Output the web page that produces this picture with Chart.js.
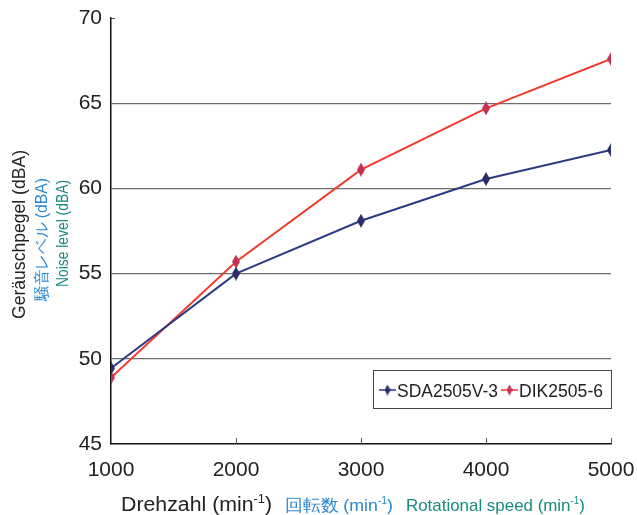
<!DOCTYPE html>
<html><head><meta charset="utf-8">
<script src="https://cdn.jsdelivr.net/npm/chart.js@4/dist/chart.umd.min.js"></script>
<style>html,body{margin:0;padding:0;background:#fff;}#wrap{width:637px;height:515px;}</style>
</head><body><div id="wrap"><canvas id="c" width="637" height="515"></canvas></div>
<script>
const speeds = [1000, 2000, 3000, 4000, 5000];
const sdaValues = [49.45, 55.0, 58.1, 60.55, 62.25];
const dikValues = [48.9, 55.7, 61.1, 64.7, 67.6];
const seriesNames = ['SDA2505V-3', 'DIK2505-6'];
const yTicks = [45, 50, 55, 60, 65, 70];
const xTicks = [1000, 2000, 3000, 4000, 5000];

const FONT = '"Liberation Sans", Arial, Helvetica, sans-serif';
const BLUE_LINE = '#2e3a82', BLUE_MARK = '#2b2d68';
const RED_LINE = '#f23a2c', RED_MARK = '#c42f52';
const JP_BLUE = '#2b86d1', EN_TEAL = '#198a7f';

function diamond(w, h, color) {
  const c = document.createElement('canvas');
  c.width = w; c.height = h;
  const g = c.getContext('2d');
  g.fillStyle = color;
  g.beginPath();
  g.moveTo(w / 2, 0); g.lineTo(w, h / 2); g.lineTo(w / 2, h); g.lineTo(0, h / 2);
  g.closePath(); g.fill();
  return c;
}
const blueD = diamond(8, 14, BLUE_MARK), redD = diamond(8, 14, RED_MARK);
const blueL = diamond(6, 11, BLUE_MARK), redL = diamond(6, 11, RED_MARK);

const mk = vals => speeds.map((s, i) => ({ x: s, y: vals[i] }));

// draw text fitted horizontally to a given width (in text direction)
function fitText(ctx, parts, size, x, y, targetW, color) {
  // parts: [{t, sup}]
  ctx.save();
  const widths = parts.map(p => {
    ctx.font = (p.sup ? Math.round(size * 0.6) : size) + 'px ' + FONT;
    return ctx.measureText(p.t).width;
  });
  const total = widths.reduce((a, b) => a + b, 0);
  const k = targetW / total;
  ctx.translate(x, y);
  ctx.scale(k, 1);
  ctx.fillStyle = color;
  ctx.textBaseline = 'alphabetic';
  ctx.textAlign = 'left';
  let cx = 0;
  parts.forEach((p, i) => {
    ctx.font = (p.sup ? Math.round(size * 0.6) : size) + 'px ' + FONT;
    ctx.fillText(p.t, cx, p.sup ? -size * 0.42 : 0);
    cx += widths[i];
  });
  ctx.restore();
}

const decor = {
  id: 'decor',
  afterDraw(chart) {
    const ctx = chart.ctx, a = chart.chartArea;
    const xs = chart.scales.x, ys = chart.scales.y;
    ctx.save();
    ctx.strokeStyle = '#555'; ctx.lineWidth = 1;
    xTicks.slice(1).forEach(v => {
      const px = Math.round(xs.getPixelForValue(v)) + 0.5;
      ctx.beginPath(); ctx.moveTo(px, a.bottom); ctx.lineTo(px, a.bottom - 6); ctx.stroke();
    });
    const ty = Math.round(ys.getPixelForValue(70)) + 0.5;
    ctx.beginPath(); ctx.moveTo(a.left, ty); ctx.lineTo(a.left + 4, ty); ctx.stroke();

    // x axis title
    const base = 511;
    fitText(ctx, [{t: 'Drehzahl (min'}, {t: '-1', sup: true}, {t: ')'}], 20, 121, base, 151, '#222');
    fitText(ctx, [{t: '回転数 (min'}, {t: '-1', sup: true}, {t: ')'}], 17, 285, base, 108, JP_BLUE);
    fitText(ctx, [{t: 'Rotational speed (min'}, {t: '-1', sup: true}, {t: ')'}], 17, 406, base, 179, EN_TEAL);

    // y axis titles (rotated); start at bottom y, running upward
    const vtext = (txt, size, color, cx, yBottom, len) => {
      ctx.save();
      ctx.translate(cx, yBottom); ctx.rotate(-Math.PI / 2);
      ctx.textBaseline = 'middle';
      ctx.font = size + 'px ' + FONT;
      const w = ctx.measureText(txt).width;
      ctx.scale(len / w, 1);
      ctx.fillStyle = color; ctx.textAlign = 'left';
      ctx.fillText(txt, 0, 0);
      ctx.restore();
    };
    vtext('Geräuschpegel (dBA)', 19, '#222', 20, 319, 169);
    vtext('騒音レベル (dBA)', 16, JP_BLUE, 43, 301, 123);
    vtext('Noise level (dBA)', 16, EN_TEAL, 64, 287, 107);

    // legend box
    const lx = 373.5, ly = 370.5, lw = 238, lh = 38;
    ctx.fillStyle = '#fff'; ctx.fillRect(lx, ly, lw, lh);
    ctx.strokeStyle = '#444'; ctx.lineWidth = 1; ctx.strokeRect(lx, ly, lw, lh);
    const cy = 390;
    const item = (x0, lineColor, img, label, tx, tw) => {
      ctx.strokeStyle = lineColor; ctx.lineWidth = 1.5;
      ctx.beginPath(); ctx.moveTo(x0, cy); ctx.lineTo(x0 + 17, cy); ctx.stroke();
      ctx.drawImage(img, x0 + 8.5 - img.width / 2, cy - img.height / 2);
      fitText(ctx, [{t: label}], 19, tx, cy + 7, tw, '#222');
    };
    item(379, BLUE_LINE, blueL, seriesNames[0], 397, 101);
    item(501, RED_LINE, redL, seriesNames[1], 519, 84);
    ctx.restore();
  }
};

new Chart(document.getElementById('c'), {
  type: 'line',
  data: {
    datasets: [
      { label: seriesNames[0], data: mk(sdaValues), borderColor: BLUE_LINE, borderWidth: 2,
        pointStyle: blueD, pointRadius: 7, tension: 0, fill: false },
      { label: seriesNames[1], data: mk(dikValues), borderColor: RED_LINE, borderWidth: 2,
        pointStyle: redD, pointRadius: 7, tension: 0, fill: false }
    ]
  },
  options: {
    responsive: false, animation: false, devicePixelRatio: 1,
    layout: { autoPadding: false, padding: { left: 0, right: 26, top: 18, bottom: 0 } },
    plugins: { legend: { display: false }, tooltip: { enabled: false } },
    scales: {
      x: {
        type: 'linear', min: 1000, max: 5000,
        afterBuildTicks: s => { s.ticks = xTicks.map(v => ({ value: v })); },
        afterFit: s => { s.height = 71; s.paddingLeft = 0; s.paddingRight = 0; },
        grid: { display: false, drawTicks: false },
        border: { display: true, color: '#111', width: 1.5 },
        ticks: { padding: 14, color: '#222', font: { family: FONT, size: 21 }, maxRotation: 0,
                 callback: v => String(v) }
      },
      y: {
        min: 45, max: 70,
        afterBuildTicks: s => { s.ticks = yTicks.map(v => ({ value: v })); },
        afterFit: s => { s.width = 111; s.paddingTop = 0; s.paddingBottom = 0; },
        grid: { drawTicks: false, lineWidth: 1.2,
                color: c => (c.tick && (c.tick.value === 45 || c.tick.value === 70)) ? 'rgba(0,0,0,0)' : '#6e6e6e' },
        border: { display: true, color: '#111', width: 1.5 },
        ticks: { padding: 9, color: '#222', font: { family: FONT, size: 21 } }
      }
    }
  },
  plugins: [decor]
});
</script></body></html>
